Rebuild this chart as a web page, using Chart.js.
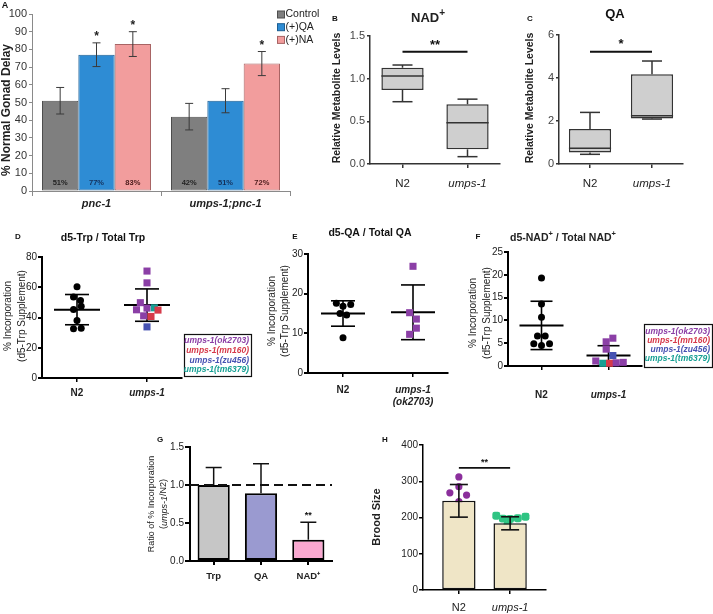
<!DOCTYPE html>
<html><head><meta charset="utf-8">
<script src="https://cdn.jsdelivr.net/npm/chart.js@4.4.1/dist/chart.umd.min.js"></script>
<style>
html,body{margin:0;padding:0;background:#fff;}
#wrap{position:relative;width:713px;height:614px;overflow:hidden;background:#fff}
#wrap canvas{position:absolute;left:0;top:0}
</style></head><body>
<div id="wrap">
<canvas id="cA" width="713" height="614"></canvas>
<canvas id="cB" width="713" height="614"></canvas>
<canvas id="cC" width="713" height="614"></canvas>
<canvas id="cD" width="713" height="614"></canvas>
<canvas id="cE" width="713" height="614"></canvas>
<canvas id="cF" width="713" height="614"></canvas>
<canvas id="cG" width="713" height="614"></canvas>
<canvas id="cH" width="713" height="614"></canvas>
</div>
<script>
// ================= DATA =================
// Panel A
const aCategories = ['pnc-1', 'umps-1;pnc-1'];
const aSeriesNames = ['Control', '(+)QA', '(+)NA'];
const aControl = [51, 42];
const aQA = [77, 51];
const aNA = [83, 72];
const aControlErr = [7.5, 7.5];
const aQAErr = [6.7, 6.8];
const aNAErr = [7.0, 6.8];
const aControlSig = ['', ''];
const aQASig = ['*', ''];
const aNASig = ['*', '*'];
const aYTicks = [0, 10, 20, 30, 40, 50, 60, 70, 80, 90, 100];

// Panel B (NAD+)
const bCategories = ['N2', 'umps-1'];
const bMin = [0.73, 0.086];
const bQ1 = [0.867, 0.172];
const bMedian = [1.03, 0.484];
const bQ3 = [1.128, 0.70];
const bMax = [1.16, 0.76];
const bMean = [1.0, 0.445];
const bYTicks = [0, 0.5, 1.0, 1.5];
const bSigY = 1.316, bSigLabel = '**';

// Panel C (QA)
const cCategories = ['N2', 'umps-1'];
const cMin = [0.45, 2.09];
const cQ1 = [0.53, 2.12];
const cMedian = [0.73, 2.25];
const cQ3 = [1.63, 4.17];
const cMax = [2.4, 4.79];
const cMean = [1.0, 2.85];
const cYTicks = [0, 2, 4, 6];
const cSigY = 5.22, cSigLabel = '*';

// Strains
const strainNames = ['umps-1(ok2703)', 'umps-1(mn160)', 'umps-1(zu456)', 'umps-1(tm6379)'];

// Panel D
const dCategories = ['N2', 'umps-1'];
const dN2 = [60.4, 53.5, 51.3, 47.5, 45.3, 38.0, 32.5, 32.9];
const dN2Jitter = [0, -0.05, 0.05, 0.06, -0.05, 0, -0.05, 0.06];
const dUmps = [70.7, 62.9, 49.8, 45.1, 46.2, 46.4, 44.9, 41.1, 40.7, 33.8];
const dUmpsJitter = [0, 0, -0.095, -0.15, 0, 0.105, 0.157, -0.048, 0.057, 0];
const dUmpsStrain = [0, 0, 0, 0, 0, 3, 1, 0, 1, 2];
const dMean = [45.2, 48.2];
const dSD = [10.0, 10.7];
const dYTicks = [0, 20, 40, 60, 80];

// Panel E
const eCategories = ['N2', ['umps-1', '(ok2703)']];
const eN2 = [17.6, 16.8, 17.3, 15.0, 14.6, 8.9];
const eN2Jitter = [-0.095, 0, 0.11, -0.043, 0.052, 0];
const eUmps = [26.9, 15.2, 13.6, 11.3, 9.75];
const eUmpsJitter = [0, -0.048, 0.048, 0.048, -0.048];
const eMean = [15.0, 15.3];
const eSD = [3.2, 6.9];
const eYTicks = [0, 10, 20, 30];

// Panel F
const fCategories = ['N2', 'umps-1'];
const fN2 = [19.3, 13.6, 10.7, 6.6, 6.6, 4.9, 4.5, 4.9];
const fN2Jitter = [0, 0, 0, -0.06, 0.055, -0.115, 0, 0.12];
const fUmps = [6.1, 5.3, 3.7, 2.3, 1.1, 0.6, 0.6, 0.7, 0.8];
const fUmpsJitter = [0.065, -0.035, -0.035, 0.065, -0.19, -0.085, 0.015, 0.115, 0.22];
const fUmpsStrain = [0, 0, 0, 2, 0, 3, 1, 0, 0];
const fMean = [8.9, 2.3];
const fSD = [5.3, 2.15];
const fYTicks = [0, 5, 10, 15, 20, 25];

// Panel G
const gCategories = ['Trp', 'QA', 'NAD\u207A'];
const gRatio = [1.0, 0.89, 0.28];
const gErr = [0.23, 0.39, 0.23];
const gSig = ['', '', '**'];
const gReference = 1.0;
const gYTicks = [0, 0.5, 1.0, 1.5];

// Panel H
const hCategories = ['N2', 'umps-1'];
const hMean = [246, 184];
const hSD = [45, 18];
const hN2 = [312, 285, 268, 262, 244, 225, 207, 172];
const hN2Jitter = [0, 0, -0.176, 0.15, 0, -0.11, 0.065, 0];
const hUmps = [205, 197, 196, 198, 202, 179, 167, 154];
const hUmpsJitter = [-0.27, -0.14, 0, 0.15, 0.3, -0.05, 0.1, -0.08];
const hYTicks = [0, 100, 200, 300, 400];
const hSigY = 337, hSigLabel = '**';

// ================= STYLE / HELPERS =================
const W = 713, H = 614;
const FF = '"Liberation Sans", Arial, Helvetica, sans-serif';
Chart.defaults.font.family = FF;
Chart.defaults.color = '#222';
Chart.defaults.animation = false;
Chart.defaults.responsive = false;
Chart.defaults.maintainAspectRatio = false;
Chart.defaults.plugins.legend.display = false;
Chart.defaults.plugins.tooltip.enabled = false;
Chart.defaults.events = [];

const strainColors = ['#8b3fa6', '#d63a4a', '#4652b2', '#17a094'];

function F(size, weight, style) { return (style || 'normal') + ' ' + (weight || 'normal') + ' ' + size + 'px ' + FF; }
function line(ctx, x1, y1, x2, y2) { ctx.beginPath(); ctx.moveTo(x1, y1); ctx.lineTo(x2, y2); ctx.stroke(); }
function text(ctx, s, x, y, font, color, align, rot) {
  ctx.save(); ctx.translate(x, y); if (rot) ctx.rotate(rot);
  ctx.font = font; ctx.fillStyle = color || '#222'; ctx.textAlign = align || 'center'; ctx.textBaseline = 'middle';
  ctx.fillText(s, 0, 0); ctx.restore();
}
function rich(ctx, parts, x, y, rot, align) {
  ctx.save(); ctx.translate(x, y); if (rot) ctx.rotate(rot);
  let total = 0;
  parts.forEach(p => { ctx.font = p.font; p.w = ctx.measureText(p.t).width; total += p.w; });
  let cx = align === 'left' ? 0 : (align === 'right' ? -total : -total / 2);
  ctx.textBaseline = 'middle'; ctx.textAlign = 'left';
  parts.forEach(p => { ctx.font = p.font; ctx.fillStyle = p.color || '#222'; ctx.fillText(p.t, cx, p.dy || 0); cx += p.w; });
  ctx.restore();
}
const ROT = -Math.PI / 2;

function pad(area, xh) { return { left: 0, top: area.t, right: W - area.r, bottom: H - area.b - xh }; }
function yScale(area, ticks, o) {
  return {
    type: 'linear', min: ticks[0], max: ticks[ticks.length - 1],
    afterFit: s => { s.width = area.l; },
    afterBuildTicks: s => { s.ticks = ticks.map(v => ({ value: v })); },
    ticks: { font: { size: o.size }, color: o.color || '#222', padding: o.pad ?? 2,
      callback: v => o.fmt ? o.fmt(v) : String(v) },
    grid: { drawOnChartArea: false, drawTicks: true, tickLength: o.tl ?? 4, color: o.lc || '#000', lineWidth: o.lw || 1 },
    border: { display: true, color: o.lc || '#000', width: o.lw || 1 }
  };
}
function xCat(xh, o) {
  return {
    type: 'category', offset: true,
    afterFit: s => { s.height = xh; },
    grid: { offset: !!o.gridOffset, drawOnChartArea: false, drawTicks: true, tickLength: o.tl ?? 4, color: o.lc || '#000', lineWidth: o.lw || 1 },
    border: { display: true, color: o.lc || '#000', width: o.lw || 1 },
    ticks: { font: o.font, color: o.color || '#222', padding: o.pad ?? 4, autoSkip: false, maxRotation: 0 }
  };
}
function xLin(xh, labels, lo, hi, o) {
  return {
    type: 'linear', min: lo, max: hi, offset: false,
    afterFit: s => { s.height = xh; },
    afterBuildTicks: s => { s.ticks = labels.map((l, i) => ({ value: i })); },
    ticks: { callback: (v, i) => labels[i], font: o.font, color: o.color || '#222', padding: o.pad ?? 4, autoSkip: false, maxRotation: 0 },
    grid: { offset: false, drawOnChartArea: false, drawTicks: true, tickLength: o.tl ?? 4, color: o.lc || '#000', lineWidth: o.lw || 1 },
    border: { display: true, color: o.lc || '#000', width: o.bw || o.lw || 1 }
  };
}
function sigBar(ctx, xs, ys, x0, x1, yv, label, o) {
  const px0 = xs.getPixelForValue(x0), px1 = xs.getPixelForValue(x1), py = ys.getPixelForValue(yv);
  ctx.save(); ctx.strokeStyle = o.color || '#111'; ctx.lineWidth = o.lw; line(ctx, px0, py, px1, py); ctx.restore();
  text(ctx, label, (px0 + px1) / 2, py - o.gap, o.font, o.color || '#111');
}
function meanSd(chart, means, sds, o) {
  const { ctx, scales: { x, y } } = chart;
  ctx.save(); ctx.strokeStyle = '#000';
  means.forEach((m, i) => {
    const px = x.getPixelForValue(i);
    const pm = y.getPixelForValue(m), pt = y.getPixelForValue(m + sds[i]), pb = y.getPixelForValue(Math.max(m - sds[i], 0));
    ctx.lineWidth = o.sdW; line(ctx, px, pt, px, pb);
    line(ctx, px - o.capHalf, pt, px + o.capHalf, pt); line(ctx, px - o.capHalf, pb, px + o.capHalf, pb);
    ctx.lineWidth = o.meanW; line(ctx, px - o.meanHalf, pm, px + o.meanHalf, pm);
  });
  ctx.restore();
}
function strainLegend(ctx, bx, by, bw, bh, firstY, step, size) {
  ctx.save(); ctx.strokeStyle = '#111'; ctx.lineWidth = 1.2; ctx.strokeRect(bx + 0.5, by + 0.5, bw, bh); ctx.restore();
  strainNames.forEach((n, i) => text(ctx, n, bx + bw - 2, firstY + i * step, F(size, 'bold', 'italic'), strainColors[i], 'right'));
}
function boxDecor(mins, medians, maxs, o) {
  return { id: 'boxDecor', afterDatasetDraw(chart, args) {
    if (args.index !== 0) return;
    const { ctx, scales: { y } } = chart;
    ctx.save(); ctx.strokeStyle = '#333'; ctx.lineWidth = 1.5;
    args.meta.data.forEach((bar, i) => {
      const half = bar.width / 2, x = bar.x;
      const q3 = Math.min(bar.y, bar.base), q1 = Math.max(bar.y, bar.base);
      const pMax = y.getPixelForValue(maxs[i]), pMin = y.getPixelForValue(mins[i]), pMed = y.getPixelForValue(medians[i]);
      line(ctx, x, q3, x, pMax); line(ctx, x - o.cap, pMax, x + o.cap, pMax);
      line(ctx, x, q1, x, pMin); line(ctx, x - o.cap, pMin, x + o.cap, pMin);
      line(ctx, x - half, pMed, x + half, pMed);
    });
    ctx.restore();
  } };
}

// ================= PANEL A =================
const areaA = { l: 32, t: 14, r: 290, b: 191 };
new Chart(document.getElementById('cA'), {
  type: 'bar',
  data: { labels: aCategories, datasets: [
    { label: aSeriesNames[0], data: aControl, err: aControlErr, sig: aControlSig, backgroundColor: '#7f7f7f', borderColor: '#4e4e4e', pct: '#222' },
    { label: aSeriesNames[1], data: aQA, err: aQAErr, sig: aQASig, backgroundColor: '#2e8cd4', borderColor: '#1c5e93', pct: '#14305a' },
    { label: aSeriesNames[2], data: aNA, err: aNAErr, sig: aNASig, backgroundColor: '#f29d9d', borderColor: '#a86464', pct: '#4a1a1a' }
  ] },
  options: {
    devicePixelRatio: 1,
    layout: { padding: pad(areaA, 30) },
    datasets: { bar: { categoryPercentage: 0.845, barPercentage: 1, borderWidth: 1, borderSkipped: false } },
    scales: {
      x: xCat(30, { gridOffset: true, tl: 5, lc: '#8a8a8a', pad: 1, font: { size: 11, weight: 'bold', style: 'italic' } }),
      y: yScale(areaA, aYTicks, { size: 11, color: '#333', tl: 3, pad: 2, lc: '#8a8a8a' })
    }
  },
  plugins: [{ id: 'aDecor', afterDatasetsDraw(chart) {
    const { ctx, scales: { y } } = chart;
    chart.data.datasets.forEach((ds, di) => {
      chart.getDatasetMeta(di).data.forEach((bar, i) => {
        const v = ds.data[i], e = ds.err[i];
        const top = y.getPixelForValue(v + e), bot = y.getPixelForValue(v - e);
        ctx.save(); ctx.strokeStyle = '#3a3a3a'; ctx.lineWidth = 1;
        line(ctx, bar.x, top, bar.x, bot); line(ctx, bar.x - 4, top, bar.x + 4, top); line(ctx, bar.x - 4, bot, bar.x + 4, bot);
        ctx.restore();
        if (ds.sig[i]) text(ctx, ds.sig[i], bar.x, top - 6, F(12, 'bold'), '#222');
        text(ctx, Math.round(v) + '%', bar.x, y.getPixelForValue(0) - 8, F(7.5, 'bold'), ds.pct);
      });
    });
    chart.data.datasets.forEach((ds, di) => {
      const yy = 14.5 + di * 12.7;
      ctx.save(); ctx.fillStyle = ds.backgroundColor; ctx.fillRect(277, yy - 3.5, 7, 7);
      ctx.strokeStyle = ds.borderColor; ctx.lineWidth = 1; ctx.strokeRect(277.5, yy - 3.5, 7, 7); ctx.restore();
      text(ctx, ds.label, 285.5, yy, F(10.5), '#222', 'left');
    });
    text(ctx, 'A', 5, 6, F(9, 'bold'), '#111');
    text(ctx, '% Normal Gonad Delay', 7, 110, F(12, 'bold'), '#222', 'center', ROT);
  } }]
});

// ================= PANEL B =================
const areaB = { l: 370, t: 36, r: 500, b: 164 };
new Chart(document.getElementById('cB'), {
  type: 'bar',
  data: { labels: bCategories, datasets: [
    { data: bQ1.map((q, i) => [q, bQ3[i]]), backgroundColor: '#cfcfcf', borderColor: '#333', borderWidth: 1.5, borderSkipped: false, barPercentage: 0.65, categoryPercentage: 1 },
    { type: 'line', data: bMean, showLine: false, pointStyle: 'cross', pointRadius: 6, pointBorderWidth: 1.4, pointBorderColor: '#111', clip: false }
  ] },
  options: {
    devicePixelRatio: 1,
    layout: { padding: pad(areaB, 30) },
    scales: {
      x: xCat(30, { tl: 4, lc: '#333', lw: 1.5, pad: 9, font: c => ({ size: 11.5, style: c.index === 1 ? 'italic' : 'normal' }) }),
      y: yScale(areaB, bYTicks, { size: 11, color: '#444', tl: 3, pad: 2, lc: '#333', lw: 1.5, fmt: v => v.toFixed(1) })
    }
  },
  plugins: [boxDecor(bMin, bMedian, bMax, { cap: 10 }), { id: 'bDecor', afterDraw(chart) {
    const { ctx, scales: { x, y } } = chart;
    sigBar(ctx, x, y, 0, 1, bSigY, bSigLabel, { lw: 2, gap: 6, font: F(13, 'bold') });
    text(ctx, 'B', 335, 19, F(8, 'bold'), '#111');
    rich(ctx, [{ t: 'NAD', font: F(13, 'bold') }, { t: '+', font: F(10, 'bold'), dy: -5 }], 428, 18);
    text(ctx, 'Relative Metabolite Levels', 337, 98, F(10.5, 'bold'), '#222', 'center', ROT);
  } }]
});

// ================= PANEL C =================
const areaC = { l: 559, t: 35, r: 683, b: 164 };
new Chart(document.getElementById('cC'), {
  type: 'bar',
  data: { labels: cCategories, datasets: [
    { data: cQ1.map((q, i) => [q, cQ3[i]]), backgroundColor: '#cfcfcf', borderColor: '#333', borderWidth: 1.5, borderSkipped: false, barPercentage: 0.68, categoryPercentage: 1 },
    { type: 'line', data: cMean, showLine: false, pointStyle: 'cross', pointRadius: 6, pointBorderWidth: 1.4, pointBorderColor: '#111', clip: false }
  ] },
  options: {
    devicePixelRatio: 1,
    layout: { padding: pad(areaC, 30) },
    scales: {
      x: xCat(30, { tl: 4, lc: '#333', lw: 1.5, pad: 9, font: c => ({ size: 11.5, style: c.index === 1 ? 'italic' : 'normal' }) }),
      y: yScale(areaC, cYTicks, { size: 11, color: '#444', tl: 3, pad: 2, lc: '#333', lw: 1.5 })
    }
  },
  plugins: [boxDecor(cMin, cMedian, cMax, { cap: 10 }), { id: 'cDecor', afterDraw(chart) {
    const { ctx, scales: { x, y } } = chart;
    sigBar(ctx, x, y, 0, 1, cSigY, cSigLabel, { lw: 2, gap: 7, font: F(13, 'bold') });
    text(ctx, 'C', 530, 19, F(8, 'bold'), '#111');
    text(ctx, 'QA', 615, 14, F(13, 'bold'), '#111');
    text(ctx, 'Relative Metabolite Levels', 530, 98, F(10.5, 'bold'), '#222', 'center', ROT);
  } }]
});

// ================= PANEL D =================
const areaD = { l: 42, t: 257, r: 182, b: 378 };
const scatFont = c => ({ size: 10, weight: 'bold', style: c.index === 1 ? 'italic' : 'normal' });
new Chart(document.getElementById('cD'), {
  type: 'scatter',
  data: { datasets: [
    { data: dN2.map((v, i) => ({ x: 0 + dN2Jitter[i], y: v })), pointStyle: 'circle', pointRadius: 3.5, pointBackgroundColor: '#000', pointBorderWidth: 0, clip: false },
    { data: dUmps.map((v, i) => ({ x: 1 + dUmpsJitter[i], y: v })), pointStyle: 'rect', pointRadius: 5, pointBackgroundColor: dUmpsStrain.map(s => strainColors[s]), pointBorderWidth: 0, clip: false }
  ] },
  options: {
    devicePixelRatio: 1,
    layout: { padding: pad(areaD, 30) },
    scales: {
      x: xLin(30, dCategories, -0.5, 1.5, { tl: 4, lw: 1.5, bw: 2, pad: 5, font: scatFont }),
      y: yScale(areaD, dYTicks, { size: 10, color: '#222', tl: 4, pad: 1, lw: 2 })
    }
  },
  plugins: [{ id: 'dDecor',
    beforeDatasetsDraw(chart) { meanSd(chart, dMean, dSD, { meanHalf: 23, capHalf: 12, meanW: 2, sdW: 1.6 }); },
    afterDraw(chart) {
      const ctx = chart.ctx;
      text(ctx, 'D', 18, 237, F(8, 'bold'), '#111');
      text(ctx, 'd5-Trp / Total Trp', 103, 238, F(10.5, 'bold'), '#111');
      text(ctx, '% Incorporation', 8.5, 316, F(10), '#222', 'center', ROT);
      text(ctx, '(d5-Trp Supplement)', 22, 316, F(10), '#222', 'center', ROT);
      strainLegend(ctx, 184, 334, 67, 42, 341, 9.7, 8.5);
    } }]
});

// ================= PANEL E =================
const areaE = { l: 308, t: 254, r: 448, b: 373 };
new Chart(document.getElementById('cE'), {
  type: 'scatter',
  data: { datasets: [
    { data: eN2.map((v, i) => ({ x: 0 + eN2Jitter[i], y: v })), pointStyle: 'circle', pointRadius: 3.5, pointBackgroundColor: '#000', pointBorderWidth: 0, clip: false },
    { data: eUmps.map((v, i) => ({ x: 1 + eUmpsJitter[i], y: v })), pointStyle: 'rect', pointRadius: 5, pointBackgroundColor: strainColors[0], pointBorderWidth: 0, clip: false }
  ] },
  options: {
    devicePixelRatio: 1,
    layout: { padding: pad(areaE, 40) },
    scales: {
      x: xLin(40, eCategories, -0.5, 1.5, { tl: 4, lw: 1.5, bw: 2, pad: 7, font: scatFont }),
      y: yScale(areaE, eYTicks, { size: 10, color: '#222', tl: 4, pad: 1, lw: 2 })
    }
  },
  plugins: [{ id: 'eDecor',
    beforeDatasetsDraw(chart) { meanSd(chart, eMean, eSD, { meanHalf: 22, capHalf: 12, meanW: 2, sdW: 1.6 }); },
    afterDraw(chart) {
      const ctx = chart.ctx;
      text(ctx, 'E', 295, 237, F(8, 'bold'), '#111');
      text(ctx, 'd5-QA / Total QA', 370, 233, F(10.5, 'bold'), '#111');
      text(ctx, '% Incorporation', 272, 311, F(10), '#222', 'center', ROT);
      text(ctx, '(d5-Trp Supplement)', 285, 311, F(10), '#222', 'center', ROT);
    } }]
});

// ================= PANEL F =================
const areaF = { l: 508, t: 252, r: 642, b: 366 };
new Chart(document.getElementById('cF'), {
  type: 'scatter',
  data: { datasets: [
    { data: fN2.map((v, i) => ({ x: 0 + fN2Jitter[i], y: v })), pointStyle: 'circle', pointRadius: 3.5, pointBackgroundColor: '#000', pointBorderWidth: 0, clip: false },
    { data: fUmps.map((v, i) => ({ x: 1 + fUmpsJitter[i], y: v })), pointStyle: 'rect', pointRadius: 5, pointBackgroundColor: fUmpsStrain.map(s => strainColors[s]), pointBorderWidth: 0, clip: false }
  ] },
  options: {
    devicePixelRatio: 1,
    layout: { padding: pad(areaF, 40) },
    scales: {
      x: xLin(40, fCategories, -0.5, 1.5, { tl: 4, lw: 1.5, bw: 2, pad: 19, font: scatFont }),
      y: yScale(areaF, fYTicks, { size: 10, color: '#222', tl: 4, pad: 1, lw: 2 })
    }
  },
  plugins: [{ id: 'fDecor',
    beforeDatasetsDraw(chart) { meanSd(chart, fMean, fSD, { meanHalf: 22, capHalf: 11, meanW: 2, sdW: 1.6 }); },
    afterDraw(chart) {
      const ctx = chart.ctx;
      text(ctx, 'F', 478, 237, F(8, 'bold'), '#111');
      const tf = F(10.5, 'bold'), sf = F(7.5, 'bold');
      rich(ctx, [{ t: 'd5-NAD', font: tf }, { t: '+', font: sf, dy: -4 }, { t: ' / Total NAD', font: tf }, { t: '+', font: sf, dy: -4 }], 563, 238);
      text(ctx, '% Incorporation', 473, 313, F(10), '#222', 'center', ROT);
      text(ctx, '(d5-Trp Supplement)', 487, 313, F(10), '#222', 'center', ROT);
      strainLegend(ctx, 644, 324, 68, 43, 332, 9, 8.5);
    } }]
});

// ================= PANEL G =================
const areaG = { l: 190, t: 447, r: 332, b: 561 };
new Chart(document.getElementById('cG'), {
  type: 'bar',
  data: { labels: gCategories, datasets: [
    { data: gRatio, err: gErr, sig: gSig, backgroundColor: ['#c6c6c6', '#9a9ad0', '#f9a8d0'], borderColor: '#000', borderWidth: 2, borderSkipped: false, barPercentage: 0.68, categoryPercentage: 1 }
  ] },
  options: {
    devicePixelRatio: 1,
    layout: { padding: pad(areaG, 30) },
    scales: {
      x: xCat(30, { tl: 4, lw: 2, pad: 6, font: { size: 9.5, weight: 'bold' } }),
      y: yScale(areaG, gYTicks, { size: 10, color: '#222', tl: 5, pad: 1, lw: 2, fmt: v => v.toFixed(1) })
    }
  },
  plugins: [{ id: 'gDecor',
    afterDatasetsDraw(chart) {
      const { ctx, scales: { y } } = chart;
      const ds = chart.data.datasets[0];
      chart.getDatasetMeta(0).data.forEach((bar, i) => {
        const top = y.getPixelForValue(ds.data[i] + ds.err[i]);
        ctx.save(); ctx.strokeStyle = '#111'; ctx.lineWidth = 1.5;
        line(ctx, bar.x, bar.y, bar.x, top); line(ctx, bar.x - 8, top, bar.x + 8, top); ctx.restore();
        if (ds.sig[i]) text(ctx, ds.sig[i], bar.x, top - 7, F(9, 'bold'), '#111');
      });
      const a = chart.chartArea, py = y.getPixelForValue(gReference);
      ctx.save(); ctx.strokeStyle = '#111'; ctx.lineWidth = 2; ctx.setLineDash([9, 5]); line(ctx, a.left, py, a.right, py); ctx.restore();
    },
    afterDraw(chart) {
      const ctx = chart.ctx;
      text(ctx, 'G', 160, 440, F(8, 'bold'), '#111');
      text(ctx, 'Ratio of % Incorporation', 152, 504, F(9), '#222', 'center', ROT);
      rich(ctx, [{ t: '(', font: F(9) }, { t: 'umps-1', font: F(9, 'normal', 'italic') }, { t: '/N2)', font: F(9) }], 164, 504, ROT);
    } }]
});

// ================= PANEL H =================
const areaH = { l: 423, t: 445, r: 546, b: 590 };
new Chart(document.getElementById('cH'), {
  type: 'bar',
  data: { datasets: [
    { data: hMean.map((v, i) => ({ x: i, y: v })), sd: hSD, backgroundColor: '#efe5c6', borderColor: '#111', borderWidth: 1.5, borderSkipped: false, barPercentage: 0.65, categoryPercentage: 1 },
    { type: 'scatter', data: hN2.map((v, i) => ({ x: 0 + hN2Jitter[i], y: v })), pointStyle: 'circle', pointRadius: 3.6, pointBackgroundColor: '#8b2f9c', pointBorderWidth: 0, clip: false },
    { type: 'scatter', data: hUmps.map((v, i) => ({ x: 1 + hUmpsJitter[i], y: v })), pointStyle: 'rectRounded', pointRadius: 4.6, pointBackgroundColor: '#2fc483', pointBorderWidth: 0, clip: false }
  ] },
  options: {
    devicePixelRatio: 1,
    layout: { padding: pad(areaH, 30) },
    scales: {
      x: xLin(30, hCategories, -0.7, 1.7, { tl: 4, lw: 1.5, pad: 7, font: c => ({ size: 11, style: c.index === 1 ? 'italic' : 'normal' }) }),
      y: yScale(areaH, hYTicks, { size: 10, color: '#222', tl: 4, pad: 1, lw: 1.5 })
    }
  },
  plugins: [{ id: 'hDecor',
    afterDatasetDraw(chart, args) {
      if (args.index !== 0) return;
      const { ctx, scales: { y } } = chart;
      const ds = chart.data.datasets[0];
      args.meta.data.forEach((bar, i) => {
        const m = ds.data[i].y, s = ds.sd[i];
        const pt = y.getPixelForValue(m + s), pb = y.getPixelForValue(m - s);
        ctx.save(); ctx.strokeStyle = '#111'; ctx.lineWidth = 1.6;
        line(ctx, bar.x, pt, bar.x, pb); line(ctx, bar.x - 9, pt, bar.x + 9, pt); line(ctx, bar.x - 9, pb, bar.x + 9, pb);
        ctx.restore();
      });
    },
    afterDraw(chart) {
      const { ctx, scales: { x, y } } = chart;
      sigBar(ctx, x, y, 0, 1, hSigY, hSigLabel, { lw: 1.6, gap: 5, font: F(9, 'bold') });
      text(ctx, 'H', 385, 440, F(8, 'bold'), '#111');
      text(ctx, 'Brood Size', 377, 517, F(11, 'bold'), '#222', 'center', ROT);
    } }]
});
</script>
</body></html>
